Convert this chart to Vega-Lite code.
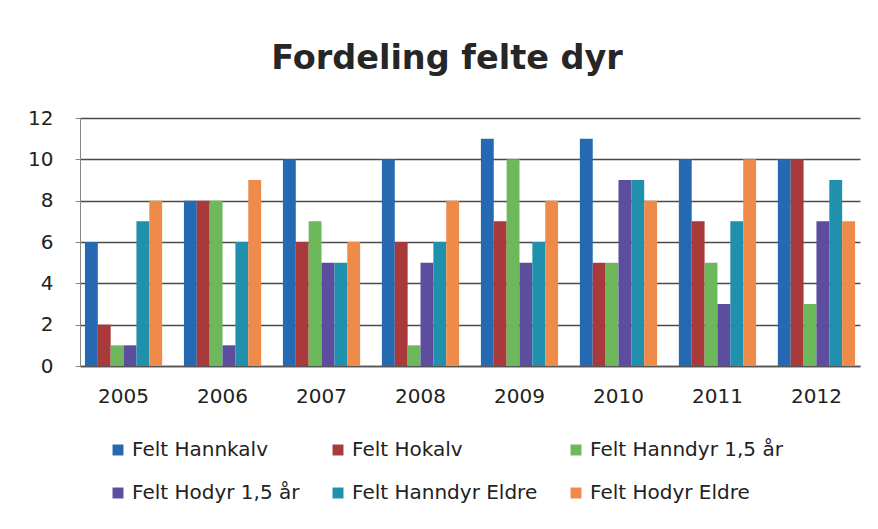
{
  "$schema": "https://vega.github.io/schema/vega-lite/v6.json",
  "width": 780,
  "height": 248,
  "autosize": "none",
  "padding": {"left": 80, "top": 118, "right": 18, "bottom": 163},
  "background": "white",
  "title": {"text": "Fordeling felte dyr", "fontSize": 33.5, "font": "DejaVu Sans", "fontWeight": "bold", "color": "#262626", "anchor": "middle", "offset": 32, "dx": -23},
  "data": {"values": [
    {"year": "2005", "s": "Felt Hannkalv", "v": 6}, {"year": "2005", "s": "Felt Hokalv", "v": 2}, {"year": "2005", "s": "Felt Hanndyr 1,5 år", "v": 1}, {"year": "2005", "s": "Felt Hodyr 1,5 år", "v": 1}, {"year": "2005", "s": "Felt Hanndyr Eldre", "v": 7}, {"year": "2005", "s": "Felt Hodyr Eldre", "v": 8},
    {"year": "2006", "s": "Felt Hannkalv", "v": 8}, {"year": "2006", "s": "Felt Hokalv", "v": 8}, {"year": "2006", "s": "Felt Hanndyr 1,5 år", "v": 8}, {"year": "2006", "s": "Felt Hodyr 1,5 år", "v": 1}, {"year": "2006", "s": "Felt Hanndyr Eldre", "v": 6}, {"year": "2006", "s": "Felt Hodyr Eldre", "v": 9},
    {"year": "2007", "s": "Felt Hannkalv", "v": 10}, {"year": "2007", "s": "Felt Hokalv", "v": 6}, {"year": "2007", "s": "Felt Hanndyr 1,5 år", "v": 7}, {"year": "2007", "s": "Felt Hodyr 1,5 år", "v": 5}, {"year": "2007", "s": "Felt Hanndyr Eldre", "v": 5}, {"year": "2007", "s": "Felt Hodyr Eldre", "v": 6},
    {"year": "2008", "s": "Felt Hannkalv", "v": 10}, {"year": "2008", "s": "Felt Hokalv", "v": 6}, {"year": "2008", "s": "Felt Hanndyr 1,5 år", "v": 1}, {"year": "2008", "s": "Felt Hodyr 1,5 år", "v": 5}, {"year": "2008", "s": "Felt Hanndyr Eldre", "v": 6}, {"year": "2008", "s": "Felt Hodyr Eldre", "v": 8},
    {"year": "2009", "s": "Felt Hannkalv", "v": 11}, {"year": "2009", "s": "Felt Hokalv", "v": 7}, {"year": "2009", "s": "Felt Hanndyr 1,5 år", "v": 10}, {"year": "2009", "s": "Felt Hodyr 1,5 år", "v": 5}, {"year": "2009", "s": "Felt Hanndyr Eldre", "v": 6}, {"year": "2009", "s": "Felt Hodyr Eldre", "v": 8},
    {"year": "2010", "s": "Felt Hannkalv", "v": 11}, {"year": "2010", "s": "Felt Hokalv", "v": 5}, {"year": "2010", "s": "Felt Hanndyr 1,5 år", "v": 5}, {"year": "2010", "s": "Felt Hodyr 1,5 år", "v": 9}, {"year": "2010", "s": "Felt Hanndyr Eldre", "v": 9}, {"year": "2010", "s": "Felt Hodyr Eldre", "v": 8},
    {"year": "2011", "s": "Felt Hannkalv", "v": 10}, {"year": "2011", "s": "Felt Hokalv", "v": 7}, {"year": "2011", "s": "Felt Hanndyr 1,5 år", "v": 5}, {"year": "2011", "s": "Felt Hodyr 1,5 år", "v": 3}, {"year": "2011", "s": "Felt Hanndyr Eldre", "v": 7}, {"year": "2011", "s": "Felt Hodyr Eldre", "v": 10},
    {"year": "2012", "s": "Felt Hannkalv", "v": 10}, {"year": "2012", "s": "Felt Hokalv", "v": 10}, {"year": "2012", "s": "Felt Hanndyr 1,5 år", "v": 3}, {"year": "2012", "s": "Felt Hodyr 1,5 år", "v": 7}, {"year": "2012", "s": "Felt Hanndyr Eldre", "v": 9}, {"year": "2012", "s": "Felt Hodyr Eldre", "v": 7}
  ]},
  "mark": {"type": "bar"},
  "encoding": {
    "x": {"field": "year", "type": "nominal", "scale": {"paddingInner": 0.22, "paddingOuter": 0.05},
      "axis": {"title": null, "labelAngle": 0, "labelFontSize": 20, "labelFont": "DejaVu Sans", "labelColor": "#222", "ticks": false, "labelPadding": 20, "domainColor": "#555", "domainWidth": 1.5}},
    "xOffset": {"field": "s", "type": "nominal", "sort": ["Felt Hannkalv", "Felt Hokalv", "Felt Hanndyr 1,5 år", "Felt Hodyr 1,5 år", "Felt Hanndyr Eldre", "Felt Hodyr Eldre"]},
    "y": {"field": "v", "type": "quantitative", "scale": {"domain": [0, 12]},
      "axis": {"title": null, "values": [0, 2, 4, 6, 8, 10, 12], "labelFontSize": 20, "labelFont": "DejaVu Sans", "labelColor": "#222", "gridColor": "#4a4a4a", "gridWidth": 1.5, "domain": true, "domainColor": "#888", "tickColor": "#888", "tickSize": 5, "labelPadding": 22}},
    "color": {"field": "s", "type": "nominal",
      "sort": ["Felt Hannkalv", "Felt Hokalv", "Felt Hanndyr 1,5 år", "Felt Hodyr 1,5 år", "Felt Hanndyr Eldre", "Felt Hodyr Eldre"],
      "scale": {"domain": ["Felt Hannkalv", "Felt Hokalv", "Felt Hanndyr 1,5 år", "Felt Hodyr 1,5 år", "Felt Hanndyr Eldre", "Felt Hodyr Eldre"],
        "range": ["#2669b3", "#a83a3c", "#6cb85a", "#5d4d9e", "#2190ad", "#ee8a4a"]},
      "legend": {"title": null, "orient": "none", "direction": "horizontal", "legendX": 28, "legendY": 322, "columns": 3, "gridAlign": "each", "columnPadding": 28, "rowPadding": 23, "symbolType": "square", "symbolSize": 120, "labelOffset": 4, "labelFontSize": 20, "labelFont": "DejaVu Sans", "labelColor": "#222", "labelLimit": 300, "symbolStrokeWidth": 0}}
  },
  "config": {"view": {"stroke": null}}
}
